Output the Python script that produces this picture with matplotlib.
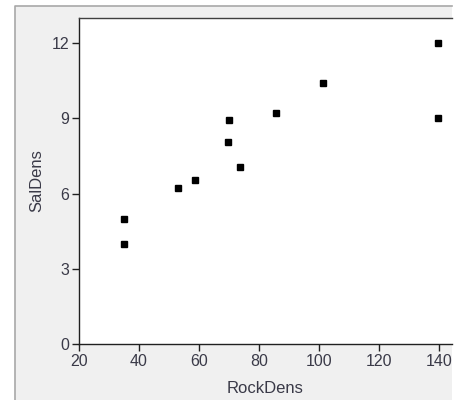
import matplotlib
matplotlib.use("Agg")
import matplotlib.pyplot as plt
from matplotlib.patches import Rectangle
from matplotlib.lines import Line2D

# densidade de rochas x densidade de salamandras
rock_dens = [35.2, 35.2, 53.1, 58.9, 69.6, 70.0, 73.6, 85.7, 101.3, 139.8, 139.8]
sal_dens = [5.0, 4.0, 6.23, 6.55, 8.05, 8.92, 7.04, 9.23, 10.4, 12.0, 9.0]

x_ticks = [20, 40, 60, 80, 100, 120, 140]
y_ticks = [0, 3, 6, 9, 12]

texto = "#3a3a48"
plt.rcParams['font.family'] = ['Liberation Sans', 'DejaVu Sans']

fig = plt.figure(figsize=(4.55, 4.0), dpi=100)
fig.patch.set_facecolor("white")

# painel cinza com borda so na esquerda e no topo
fig.patches.append(Rectangle((15 / 455, 0), 437 / 455, 394 / 400,
                             transform=fig.transFigure, facecolor="#f0f0f0",
                             edgecolor="none", zorder=-10))
fig.lines.append(Line2D([15 / 455, 15 / 455, 452 / 455], [0, 394 / 400, 394 / 400],
                        transform=fig.transFigure, color="#a8a8a8", lw=1.2))

ax = fig.add_axes([78.7 / 455, 56 / 400, (452 - 78.7) / 455, (344 - 18) / 400])
ax.set_facecolor("white")

ax.plot(rock_dens, sal_dens, linestyle="none", marker="s", markersize=5,
        color="black")

ax.set_xlim(20, 144.4)
ax.set_ylim(0, 13.0)
ax.set_xticks(x_ticks)
ax.set_yticks(y_ticks)

for lado in ["left", "bottom", "top"]:
    ax.spines[lado].set_color("#202020")
    ax.spines[lado].set_linewidth(1.0)
ax.spines["right"].set_visible(False)
ax.spines["top"].set_color("#404040")

ax.tick_params(direction="out", length=5, width=1, color="#202020",
               labelsize=11.5, labelcolor=texto, pad=2)

ax.set_xlabel("RockDens", fontsize=12, color=texto, labelpad=9)
ax.set_ylabel("SalDens", fontsize=12, color=texto, labelpad=5)

fig.savefig("out.png", dpi=100)
